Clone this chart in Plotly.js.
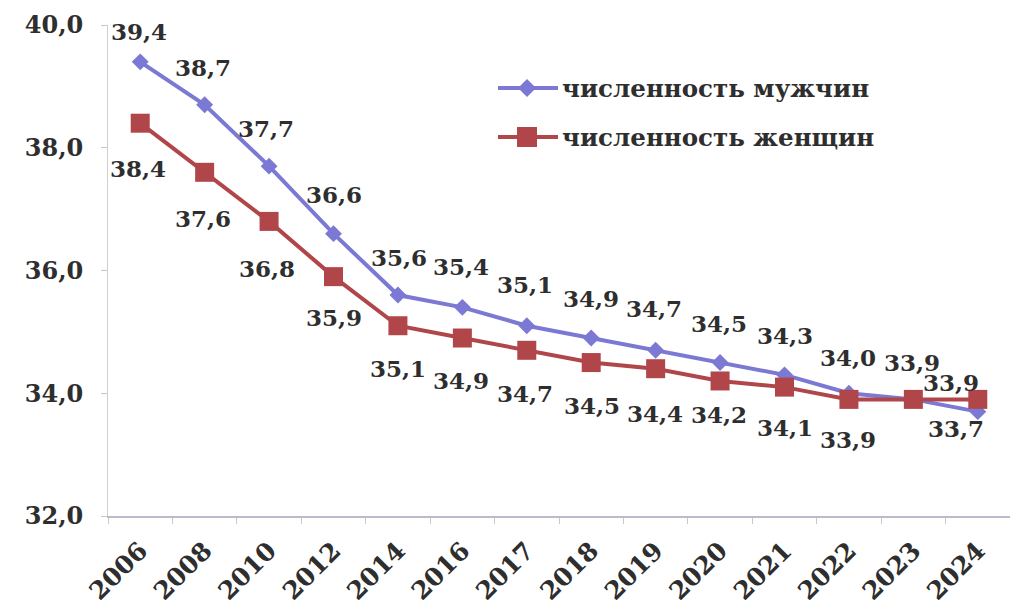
<!DOCTYPE html>
<html>
<head>
<meta charset="utf-8">
<script src="https://cdn.plot.ly/plotly-3.0.1.min.js"></script>
<style>
  html, body { margin: 0; padding: 0; background: #ffffff; }
  #chart { width: 1010px; height: 605px; }
</style>
</head>
<body>
<div id="chart"></div>
<script>
// ---- data ----
const years = ["2006","2008","2010","2012","2014","2016","2017","2018","2019","2020","2021","2022","2023","2024"];
const men   = [39.4, 38.7, 37.7, 36.6, 35.6, 35.4, 35.1, 34.9, 34.7, 34.5, 34.3, 34.0, 33.9, 33.7];
const women = [38.4, 37.6, 36.8, 35.9, 35.1, 34.9, 34.7, 34.5, 34.4, 34.2, 34.1, 33.9, 33.9, 33.9];
const menName = "численность мужчин";
const womenName = "численность женщин";
const yTicks = [32, 34, 36, 38, 40];

// ---- label placement (pixel offsets, style only) ----
const menDx = [-1,-2,-3,0,1,-1,-2,0,-2,-1,0,-1,-1,-22];
const menDy = [30,37,38,39,38,41,41,40,42,39,39,36,37,-17];
const womenDx = [-2,-2,-2,0,0,-1,-2,1,-1,-1,0,-1,0,-27];
const womenDy = [-45,-46,-47,-41,-43,-42,-43,-43,-45,-34,-40,-40,0,17];
const womenShow = [1,1,1,1,1,1,1,1,1,1,1,1,0,1];

const menColor = "#7b79d3";
const womenColor = "#b1464a";
const textColor = "#2e2e2e";
const FONT = "DejaVu Serif";

const fmt = v => v.toFixed(1).replace(".", ",");

const traces = [
  {
    x: years, y: men, type: "scatter", mode: "lines+markers", name: menName,
    line: {color: menColor, width: 4},
    marker: {symbol: "diamond", size: 13, color: menColor},
    showlegend: false, hoverinfo: "skip"
  },
  {
    x: years, y: women, type: "scatter", mode: "lines+markers", name: womenName,
    line: {color: womenColor, width: 4},
    marker: {symbol: "square", size: 19, color: womenColor},
    showlegend: false, hoverinfo: "skip"
  }
];

const annotations = [];
years.forEach((yr, i) => {
  annotations.push({
    x: i, y: men[i], xref: "x", yref: "y", text: fmt(men[i]), showarrow: false,
    xshift: menDx[i], yshift: menDy[i],
    font: {family: FONT, size: 23, color: textColor, weight: "bold"}
  });
  if (womenShow[i]) {
    annotations.push({
      x: i, y: women[i], xref: "x", yref: "y", text: fmt(women[i]), showarrow: false,
      xshift: womenDx[i], yshift: womenDy[i],
      font: {family: FONT, size: 23, color: textColor, weight: "bold"}
    });
  }
});

// custom legend (paper coords)
const W = 1010 - 108, H = 605 - 25 - 89;
const px = x => (x - 108) / W;
const py = y => 1 - (y - 25) / H;
const legendRows = [
  {name: menName, color: menColor, y: 88, sym: "diamond"},
  {name: womenName, color: womenColor, y: 137, sym: "square"}
];
const shapes = [];
legendRows.forEach(r => {
  shapes.push({type: "line", xref: "paper", yref: "paper",
    x0: px(498), x1: px(558), y0: py(r.y), y1: py(r.y),
    line: {color: r.color, width: 4}});
  if (r.sym === "diamond") {
    const cx = 527, cy = r.y, h = 9;
    shapes.push({type: "path", xref: "paper", yref: "paper",
      path: `M ${px(cx-h)} ${py(cy)} L ${px(cx)} ${py(cy-h)} L ${px(cx+h)} ${py(cy)} L ${px(cx)} ${py(cy+h)} Z`,
      fillcolor: r.color, line: {color: r.color, width: 0}});
  } else {
    const cx = 527, cy = r.y, h = 10;
    shapes.push({type: "rect", xref: "paper", yref: "paper",
      x0: px(cx-h), x1: px(cx+h), y0: py(cy+h), y1: py(cy-h),
      fillcolor: r.color, line: {color: r.color, width: 0}});
  }
  annotations.push({xref: "paper", yref: "paper", x: px(560), y: py(r.y),
    xanchor: "left", yanchor: "middle", text: r.name, showarrow: false,
    font: {family: FONT, size: 24.5, color: textColor, weight: "bold"}});
});

const layout = {
  width: 1010, height: 605,
  margin: {l: 108, r: 0, t: 25, b: 89, pad: 0},
  paper_bgcolor: "#ffffff", plot_bgcolor: "#ffffff",
  separators: ",",
  showlegend: false,
  font: {family: FONT, color: textColor},
  xaxis: {
    type: "category", range: [-0.5, 13.5],
    showgrid: false, zeroline: false,
    showline: true, linecolor: "#b9bccb", linewidth: 2,
    ticks: "outside", tickson: "boundaries", ticklen: 6, tickcolor: "#c8c8d0", tickwidth: 1,
    tickangle: -45, ticklabelstandoff: 8,
    tickfont: {family: FONT, size: 25, color: textColor, weight: "bold"}
  },
  yaxis: {
    range: [32, 40], tickvals: yTicks, tickformat: ".1f",
    showgrid: false, zeroline: false,
    showline: true, linecolor: "#d0d0d0", linewidth: 1,
    ticks: "outside", ticklen: 6, tickcolor: "#c8c8c8",
    ticklabelstandoff: 13,
    tickfont: {family: FONT, size: 24, color: textColor, weight: "bold"}
  },
  annotations: annotations,
  shapes: shapes
};

Plotly.newPlot("chart", traces, layout, {staticPlot: true, displayModeBar: false});
</script>
</body>
</html>
